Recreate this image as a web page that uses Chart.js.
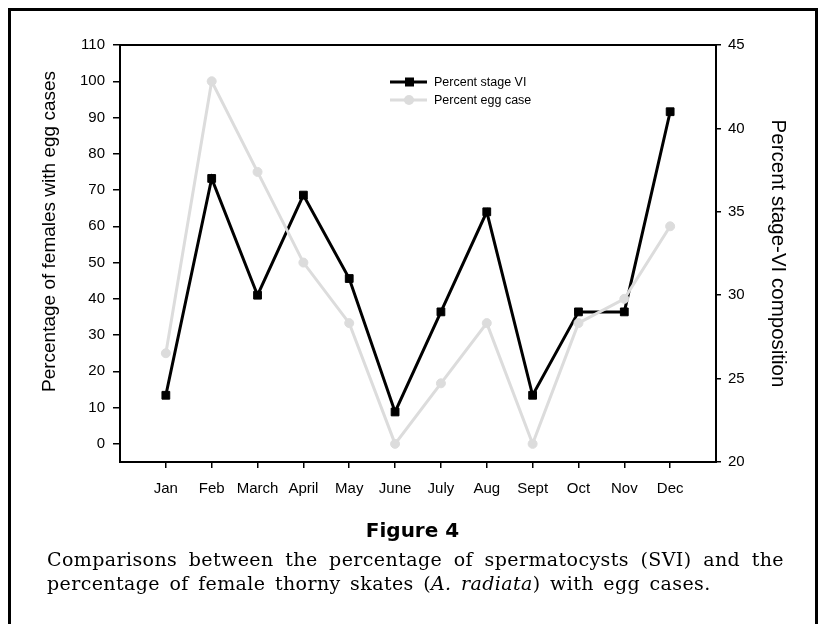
<!DOCTYPE html>
<html>
<head>
<meta charset="utf-8">
<script src="https://cdn.jsdelivr.net/npm/chart.js@4.4.1/dist/chart.umd.min.js"></script>
<style>
    html, body { margin: 0; padding: 0; background: #fff; }
    body { width: 825px; height: 624px; position: relative; overflow: hidden; }
    #frame { position: absolute; left: 8px; top: 8px; width: 804px; height: 640px; border: 3px solid #000; }
    #chart { position: absolute; left: 0; top: 0; }
    #fig { position: absolute; left: 0; width: 825px; top: 518px; text-align: center; font: bold 20px "DejaVu Sans"; }
    #cap { position: absolute; left: 47px; top: 547px; width: 737px; font: 19px/24px "DejaVu Serif"; letter-spacing: 0.4px; word-spacing: 3px; color: #000; }
    #cap .l1 { text-align: justify; text-align-last: justify; }
</style>
</head>
<body>
<div id="frame"></div>
<canvas id="chart" width="825" height="624"></canvas>
<div id="fig">Figure 4</div>
<div id="cap">
    <div class="l1">Comparisons between the percentage of spermatocysts (SVI) and the</div>
    <div>percentage of female thorny skates (<i>A. radiata</i>) with egg cases.</div>
</div>
<script>
const months = ["Jan", "Feb", "March", "April", "May", "June", "July", "Aug", "Sept", "Oct", "Nov", "Dec"];
const stageVI = [24, 37, 30, 36, 31, 23, 29, 35, 24, 29, 29, 41];          // right axis
const eggCase = [25, 100, 75, 50, 33.3, 0, 16.7, 33.3, 0, 33.3, 40, 60];   // left axis
const leftTicks = [0, 10, 20, 30, 40, 50, 60, 70, 80, 90, 100, 110];
const rightTicks = [20, 25, 30, 35, 40, 45];

const GRAY = "#dcdcdc";
const SANS = '"Liberation Sans", Arial, sans-serif';
const tickFont = { family: SANS, size: 15 };

// box round the plot area
const plotBox = {
    id: "plotBox",
    afterDraw(chart) {
        const { ctx, chartArea: a } = chart;
        ctx.save();
        ctx.strokeStyle = "#000";
        ctx.lineWidth = 2;
        ctx.strokeRect(a.left, a.top, a.right - a.left, a.bottom - a.top);
        ctx.restore();
    },
};

// left axis title sits a bit above the axis middle in the original
const leftTitle = {
    id: "leftTitle",
    afterDraw(chart) {
        const { ctx, chartArea: a } = chart;
        ctx.save();
        ctx.translate(50, (a.top + a.bottom) / 2 - 22);
        ctx.rotate(-Math.PI / 2);
        ctx.font = "19px " + SANS;
        ctx.fillStyle = "#000";
        ctx.textAlign = "center";
        ctx.textBaseline = "middle";
        ctx.fillText("Percentage of females with egg cases", 0, 0);
        ctx.restore();
    },
};

// legend drawn inside the plot, line + marker like the original
const legendBox = {
    id: "legendBox",
    afterDraw(chart) {
        const { ctx, chartArea: a } = chart;
        const items = [
            { label: "Percent stage VI", color: "#000", style: "rect" },
            { label: "Percent egg case", color: GRAY, style: "circle" },
        ];
        ctx.save();
        items.forEach((it, i) => {
            const x = a.left + 270;
            const y = a.top + 37 + i * 18;
            ctx.strokeStyle = it.color;
            ctx.fillStyle = it.color;
            ctx.lineWidth = 3;
            ctx.beginPath();
            ctx.moveTo(x, y);
            ctx.lineTo(x + 37, y);
            ctx.stroke();
            ctx.beginPath();
            if (it.style === "rect") ctx.rect(x + 15, y - 4.5, 9, 9);
            else ctx.arc(x + 19, y, 5, 0, Math.PI * 2);
            ctx.fill();
            ctx.fillStyle = "#000";
            ctx.font = "12.5px " + SANS;
            ctx.textBaseline = "middle";
            ctx.fillText(it.label, x + 44, y + 1);
        });
        ctx.restore();
    },
};

const axisLook = (tickLength) => ({
    grid: { drawOnChartArea: false, drawTicks: true, tickLength, color: "#000", lineWidth: 1.5 },
    border: { display: true, color: "#000", width: 2 },
});

new Chart(document.getElementById("chart"), {
    type: "line",
    data: {
        datasets: [
            {
                label: "Percent stage VI",
                data: stageVI.map((v, i) => ({ x: i + 1, y: v })),
                yAxisID: "yR",
                borderColor: "#000",
                backgroundColor: "#000",
                borderWidth: 3,
                pointStyle: "rect",
                pointRadius: 5.5,
                pointBorderWidth: 1,
                tension: 0,
                order: 2,
            },
            {
                label: "Percent egg case",
                data: eggCase.map((v, i) => ({ x: i + 1, y: v })),
                yAxisID: "yL",
                borderColor: GRAY,
                backgroundColor: GRAY,
                borderWidth: 3,
                pointStyle: "circle",
                pointRadius: 4.5,
                pointBorderWidth: 1,
                tension: 0,
                order: 1,
            },
        ],
    },
    options: {
        responsive: false,
        animation: false,
        events: [],
        layout: { padding: { left: 0, right: 0, top: 45, bottom: 122 } },
        plugins: { legend: { display: false }, tooltip: { enabled: false } },
        scales: {
            x: {
                type: "linear",
                min: 0,
                max: 13,
                afterBuildTicks: (s) => { s.ticks = months.map((m, i) => ({ value: i + 1 })); },
                afterFit: (s) => { s.height = 40; },
                ticks: { callback: (v) => months[v - 1], font: tickFont, color: "#000", padding: 12, maxRotation: 0, autoSkip: false },
                ...axisLook(6),
            },
            yL: {
                position: "left",
                min: -5,
                max: 110,
                afterBuildTicks: (s) => { s.ticks = leftTicks.map((v) => ({ value: v })); },
                afterFit: (s) => { s.width = 120; },
                ticks: { font: tickFont, color: "#000", padding: 8 },
                ...axisLook(7),
            },
            yR: {
                position: "right",
                min: 20,
                max: 45,
                afterBuildTicks: (s) => { s.ticks = rightTicks.map((v) => ({ value: v })); },
                afterFit: (s) => { s.width = 109; },
                ticks: { font: tickFont, color: "#000", padding: 7 },
                title: { display: true, text: "Percent stage-VI composition", font: { family: SANS, size: 20.5 }, color: "#000", padding: { top: 35, bottom: 0 } },
                ...axisLook(5),
            },
        },
    },
    plugins: [plotBox, leftTitle, legendBox],
});
</script>
</body>
</html>
